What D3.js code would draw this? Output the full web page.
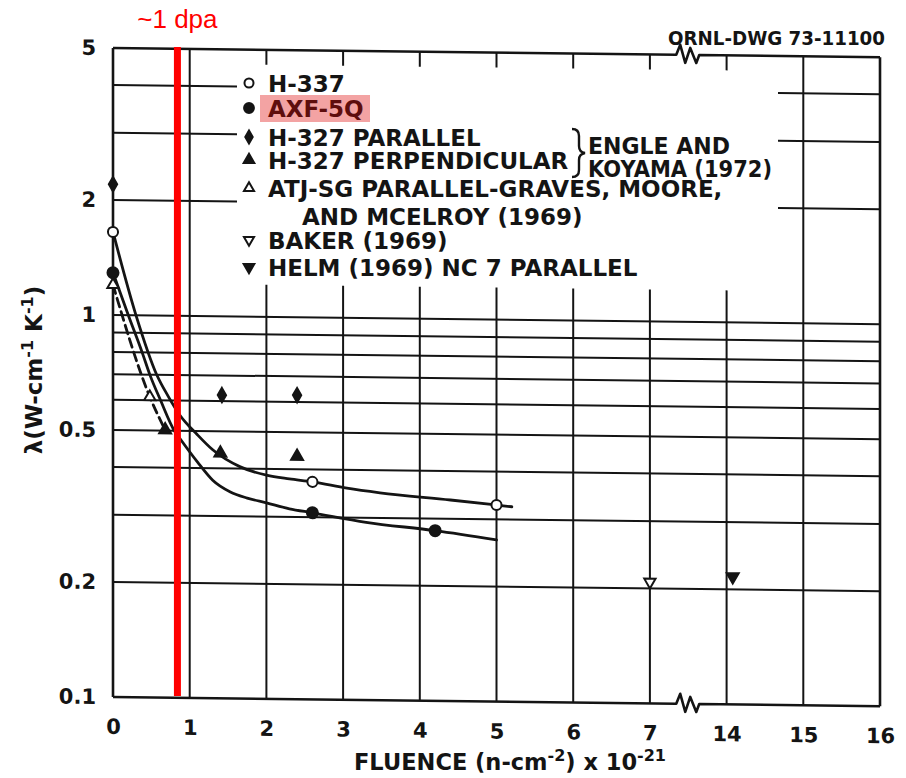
<!DOCTYPE html>
<html><head><meta charset="utf-8">
<script src="https://cdn.jsdelivr.net/npm/d3@7"></script>
<style>html,body{margin:0;padding:0;background:#fff;} svg{display:block;}</style>
</head><body>
<svg id="chart" width="906" height="778"></svg>
<script>
// ---------------- data ----------------
const xTickValues = [0, 1, 2, 3, 4, 5, 6, 7, 14, 15, 16];
const yTickValues = [0.1, 0.2, 0.5, 1, 2, 5];
const yTickLabels = ["0.1", "0.2", "0.5", "1", "2", "5"];
const yGridFull = [0.2, 0.3, 0.4, 0.5, 0.6, 0.7, 0.8, 0.9, 1];
const yGridUpper = [2, 3, 4];
const xGridFull = [1, 15];
const xGridLower = [2, 3, 4, 5, 6, 7, 14];

// measured points: [fluence, conductivity]
const h337 = [[0, 1.65], [2.6, 0.371], [5.0, 0.327]];
const axf5q = [[0, 1.29], [2.6, 0.308], [4.2, 0.279]];
const h327Par = [[0, 2.2], [1.42, 0.622], [2.4, 0.625]];
const h327Perp = [[0.68, 0.502], [1.4, 0.438], [2.4, 0.432]];
const atjSg = [[0, 1.2], [0.48, 0.612]];
const baker = [[7, 0.208]];
const helm = [[14.08, 0.216]];

// hand-drawn fit curves
const h337Curve = [[0, 1.65], [0.3, 1.0], [0.57, 0.7], [0.72, 0.615], [0.87, 0.55], [1.1, 0.489], [1.3, 0.447], [1.66, 0.404], [2.0, 0.385], [2.3, 0.377], [2.6, 0.371], [3.05, 0.358], [3.48, 0.349], [4.4, 0.336], [5.0, 0.327], [5.2, 0.324]];
const axfCurve = [[0, 1.29], [0.2, 1.0], [0.38, 0.8], [0.48, 0.7], [0.62, 0.6], [0.8, 0.5], [0.87, 0.478], [1.1, 0.415], [1.3, 0.372], [1.53, 0.347], [1.75, 0.335], [2.0, 0.326], [2.3, 0.315], [2.6, 0.308], [3.3, 0.292], [4.2, 0.279], [5.0, 0.265]];
const atjCurve = [[0, 1.2], [0.48, 0.612], [0.68, 0.502]];

const dpaFluence = 0.84;
const dpaLabel = "~1 dpa";
const drawingNumber = "ORNL-DWG 73-11100";

const legendLabels = ["H-337", "AXF-5Q", "H-327 PARALLEL", "H-327 PERPENDICULAR",
  "ATJ-SG PARALLEL-GRAVES, MOORE,", "AND MCELROY (1969)", "BAKER (1969)", "HELM (1969) NC 7 PARALLEL"];
const legendSymbols = ["circleOpen", "circle", "diamond", "triangle", "triangleOpen", null, "invTriangleOpen", "invTriangle"];
const braceLabels = ["ENGLE AND", "KOYAMA (1972)"];

// ---------------- layout ----------------
const FONT = "'DejaVu Sans', sans-serif";
const INK = "#141414";
const L = 113, R = 880, T = 48, B = 697;
const skewK = 0.012;

const svg = d3.select("#chart");
svg.append("rect").attr("width", 906).attr("height", 778).attr("fill", "#fff");

const x = d3.scaleLinear().domain([0, 7, 14, 16]).range([L, 649.9, 726.6, R]);
const y = d3.scaleLog().domain([0.1, 5]).range([B, T]);

const g = svg.append("g")
  .attr("transform", `matrix(1,${skewK},0,1,0,${-skewK * L})`)
  .attr("font-family", FONT);

// grid lines
const grid = g.append("g").attr("stroke", INK).attr("stroke-width", 2).attr("fill", "none");
grid.selectAll("line.hf").data(yGridFull).join("line")
  .attr("x1", L).attr("x2", R).attr("y1", d => y(d)).attr("y2", d => y(d));
const gapStart = 237, gapEnd = 778;
grid.selectAll("line.hu1").data(yGridUpper).join("line")
  .attr("x1", L).attr("x2", gapStart).attr("y1", d => y(d)).attr("y2", d => y(d));
grid.selectAll("line.hu2").data(yGridUpper).join("line")
  .attr("x1", gapEnd).attr("x2", R).attr("y1", d => y(d)).attr("y2", d => y(d));
grid.selectAll("line.vf").data(xGridFull).join("line")
  .attr("x1", d => x(d)).attr("x2", d => x(d)).attr("y1", T).attr("y2", B);
grid.selectAll("line.vl").data(xGridLower).join("line")
  .attr("x1", d => x(d)).attr("x2", d => x(d)).attr("y1", 283).attr("y2", B);
grid.selectAll("line.vt").data(xGridLower).join("line")
  .attr("x1", d => x(d)).attr("x2", d => x(d)).attr("y1", T).attr("y2", T + 15);

// frame with axis breaks
const brk = (x(7) + x(14)) / 2;
function breakPath(y0) {
  return `M${L},${y0} H${brk - 12} L${brk - 8},${y0 - 10} L${brk - 3},${y0 + 8} L${brk + 2},${y0 - 7} L${brk + 8},${y0 + 8} L${brk + 11},${y0} H${R}`;
}
const frame = g.append("g").attr("stroke", INK).attr("stroke-width", 2.6).attr("fill", "none")
  .attr("stroke-linejoin", "round");
frame.append("path").attr("d", breakPath(B));
frame.append("path").attr("d", breakPath(T));
frame.append("line").attr("x1", L).attr("x2", L).attr("y1", T).attr("y2", B);
frame.append("line").attr("x1", R).attr("x2", R).attr("y1", T).attr("y2", B);

// axes (labels only)
const yAxis = g.append("g").attr("transform", `translate(${L},0)`)
  .call(d3.axisLeft(y).tickValues(yTickValues).tickFormat((d, i) => yTickLabels[i]).tickSize(0).tickPadding(17));
yAxis.select(".domain").remove();
yAxis.selectAll("text").attr("font-family", FONT).attr("font-weight", "bold").attr("font-size", 21).attr("fill", INK);

const xAxis = g.append("g").attr("transform", `translate(0,${B})`)
  .call(d3.axisBottom(x).tickValues(xTickValues).tickFormat(d3.format("d")).tickSize(0).tickPadding(22));
xAxis.select(".domain").remove();
xAxis.selectAll("text").attr("font-family", FONT).attr("font-weight", "bold").attr("font-size", 21).attr("fill", INK);

// curves
const line = d3.line().x(d => x(d[0])).y(d => y(d[1])).curve(d3.curveMonotoneX);
const curves = g.append("g").attr("fill", "none").attr("stroke", INK).attr("stroke-width", 2.8)
  .attr("stroke-linecap", "round");
curves.append("path").attr("d", line(h337Curve));
curves.append("path").attr("d", line(axfCurve));
curves.append("path").attr("d", line(atjCurve)).attr("stroke-dasharray", "9,5");

// markers
const symTypes = {
  circle: { type: d3.symbolCircle, size: 95, fill: INK, rot: 0 },
  circleOpen: { type: d3.symbolCircle, size: 80, fill: "#fff", rot: 0 },
  diamond: { type: d3.symbolDiamond, size: 60, fill: INK, rot: 0 },
  triangle: { type: d3.symbolTriangle, size: 62, fill: INK, rot: 0 },
  triangleOpen: { type: d3.symbolTriangle, size: 55, fill: "#fff", rot: 0 },
  invTriangle: { type: d3.symbolTriangle, size: 62, fill: INK, rot: 180 },
  invTriangleOpen: { type: d3.symbolTriangle, size: 55, fill: "#fff", rot: 180 }
};
function drawMarkers(parent, data, key, scale) {
  const s = symTypes[key];
  parent.selectAll(null).data(data).join("path")
    .attr("d", d3.symbol().type(s.type).size(s.size * (scale || 1)))
    .attr("transform", d => `translate(${x(d[0])},${y(d[1])}) rotate(${s.rot})`)
    .attr("fill", s.fill).attr("stroke", INK).attr("stroke-width", 2);
}
const marks = g.append("g");
drawMarkers(marks, h337, "circleOpen");
drawMarkers(marks, axf5q, "circle");
drawMarkers(marks, h327Par, "diamond");
drawMarkers(marks, h327Perp, "triangle");
drawMarkers(marks, atjSg, "triangleOpen");
drawMarkers(marks, baker, "invTriangleOpen");
drawMarkers(marks, helm, "invTriangle");

// ---------------- legend (unskewed) ----------------
const lg = svg.append("g").attr("font-family", FONT).attr("font-weight", "bold").attr("fill", INK);
const rowY = [83, 108, 137, 160, 188, 216, 240, 267];
const markX = 249, textX = 268;
const LEG_FS = 23;
// highlight box behind AXF-5Q
lg.append("rect").attr("x", 260).attr("y", 95).attr("width", 110).attr("height", 27)
  .attr("fill", "#f3a3a3");
legendLabels.forEach((lab, i) => {
  const t = lg.append("text").attr("x", i === 5 ? 302 : textX).attr("y", rowY[i] + 8.5)
    .attr("font-size", LEG_FS).text(lab);
  if (i === 1) t.attr("fill", "#5e0d0d");
  const key = legendSymbols[i];
  if (key) {
    const s = symTypes[key];
    lg.append("path")
      .attr("d", d3.symbol().type(s.type).size(s.size * 0.8))
      .attr("transform", `translate(${markX},${rowY[i]}) rotate(${s.rot})`)
      .attr("fill", s.fill).attr("stroke", INK).attr("stroke-width", 2);
  }
});
// brace
lg.append("path")
  .attr("d", "M572,129 Q579,129 579,136 L579,146 Q579,152 585,153 Q579,154 579,160 L579,170 Q579,177 572,177")
  .attr("fill", "none").attr("stroke", INK).attr("stroke-width", 2.4);
lg.append("text").attr("x", 588).attr("y", 153.5).attr("font-size", LEG_FS)
  .attr("textLength", 142).attr("lengthAdjust", "spacingAndGlyphs").text(braceLabels[0]);
lg.append("text").attr("x", 588).attr("y", 176.5).attr("font-size", LEG_FS)
  .attr("textLength", 184).attr("lengthAdjust", "spacingAndGlyphs").text(braceLabels[1]);

// drawing number
svg.append("text").attr("x", 668).attr("y", 45).attr("font-family", FONT)
  .attr("font-weight", "bold").attr("font-size", 20).attr("fill", INK)
  .attr("textLength", 217).attr("lengthAdjust", "spacingAndGlyphs").text(drawingNumber);

// axis titles
const xt = svg.append("text").attr("x", 510).attr("y", 770).attr("text-anchor", "middle")
  .attr("font-family", FONT).attr("font-weight", "bold").attr("font-size", 22.5).attr("fill", INK);
xt.append("tspan").text("FLUENCE (n-cm");
xt.append("tspan").attr("dy", -9).attr("font-size", 16).text("-2");
xt.append("tspan").attr("dy", 9).text(") x 10");
xt.append("tspan").attr("dy", -9).attr("font-size", 16).text("-21");

const yt = svg.append("text").attr("transform", "translate(42,370) rotate(-90)")
  .attr("text-anchor", "middle").attr("font-family", FONT).attr("font-weight", "bold")
  .attr("font-size", 23).attr("fill", INK);
yt.append("tspan").text("λ(W-cm");
yt.append("tspan").attr("dy", -9).attr("font-size", 16).text("-1");
yt.append("tspan").attr("dy", 9).text(" K");
yt.append("tspan").attr("dy", -9).attr("font-size", 16).text("-1");
yt.append("tspan").attr("dy", 9).text(")");

// ---------------- red annotation ----------------
svg.append("line").attr("x1", x(dpaFluence)).attr("x2", x(dpaFluence))
  .attr("y1", y(5) - 1).attr("y2", y(0.1) - 1)
  .attr("stroke", "#ff0000").attr("stroke-width", 7);
svg.append("text").attr("x", x(dpaFluence)).attr("y", 28).attr("text-anchor", "middle")
  .attr("font-family", "'Liberation Sans', Arial, sans-serif").attr("font-size", 26)
  .attr("fill", "#ff0000").text(dpaLabel);
</script>
</body></html>
